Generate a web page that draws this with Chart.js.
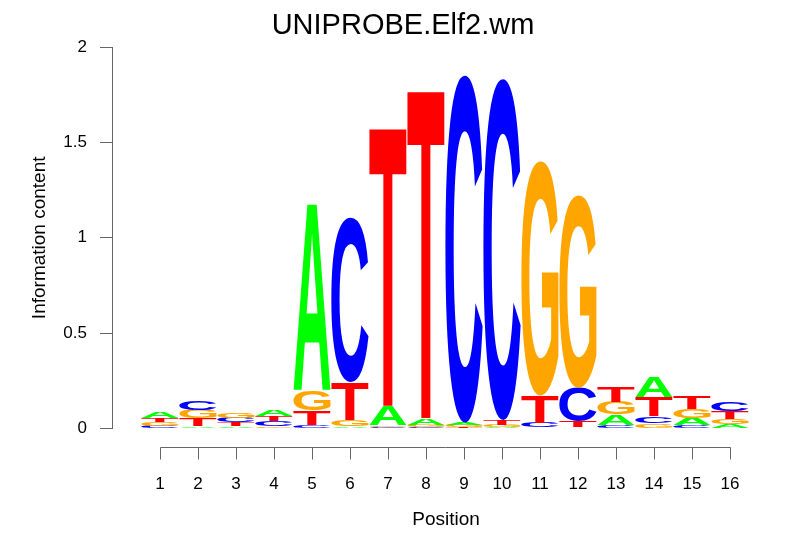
<!DOCTYPE html>
<html>
<head>
<meta charset="utf-8">
<title>UNIPROBE.Elf2.wm</title>
<script src="https://cdn.jsdelivr.net/npm/chart.js@4/dist/chart.umd.min.js"></script>
<style>
  html, body { margin: 0; padding: 0; background: #fff; }
  canvas { display: block; }
</style>
</head>
<body>
<canvas id="logo" width="806" height="559"></canvas>
<script>
// positions along the motif
const positions = [1, 2, 3, 4, 5, 6, 7, 8, 9, 10, 11, 12, 13, 14, 15, 16];
const letters = ['A', 'C', 'G', 'T'];
const letterColors = ['#00FF00', '#0000FF', '#FFA500', '#FF0000'];

// information content (bits) of each letter, per position
const bitsA = [0.031, 0.012, 0.010, 0.031, 0.981, 0.009, 0.102, 0.035, 0.013, 0.006, 0.004, 0.005, 0.054, 0.109, 0.037, 0.020];
const bitsC = [0.013, 0.047, 0.025, 0.025, 0.017, 0.867, 0.008, 0.006, 1.825, 1.794, 0.026, 0.176, 0.019, 0.037, 0.019, 0.048];
const bitsG = [0.020, 0.045, 0.026, 0.011, 0.102, 0.034, 0.009, 0.013, 0.011, 0.011, 1.231, 1.012, 0.067, 0.026, 0.045, 0.029];
const bitsT = [0.023, 0.040, 0.021, 0.029, 0.076, 0.197, 1.464, 1.727, 0.006, 0.026, 0.142, 0.031, 0.083, 0.098, 0.065, 0.043];

const yTicks = [0, 0.5, 1, 1.5, 2];

// stack order: smallest letter at the bottom, so build one dataset per rank
const allBits = [bitsA, bitsC, bitsG, bitsT];
const rankLetters = [[], [], [], []];
const rankData = [[], [], [], []];
positions.forEach(function (p, i) {
    const col = letters.map(function (l, k) { return { k: k, v: allBits[k][i] }; });
    col.sort(function (a, b) { return a.v - b.v; });
    col.forEach(function (c, r) {
        rankLetters[r].push(c.k);
        rankData[r].push({ x: p, y: c.v });
    });
});

const datasets = rankData.map(function (d, r) {
    return {
        label: 'rank' + r,
        data: d,
        backgroundColor: 'rgba(0,0,0,0)',
        borderWidth: 0,
        barPercentage: 0.98,
        categoryPercentage: 1
    };
});

// letter glyph stretched to fill a box
function drawLetter(ctx, ch, color, left, top, w, h) {
    if (h <= 0.05 || w <= 0) return;
    ctx.save();
    ctx.font = 'bold 200px "Liberation Sans", Arial, sans-serif';
    ctx.textAlign = 'left';
    ctx.textBaseline = 'alphabetic';
    const m = ctx.measureText(ch);
    const gw = m.actualBoundingBoxLeft + m.actualBoundingBoxRight;
    const gh = m.actualBoundingBoxAscent + m.actualBoundingBoxDescent;
    ctx.translate(left, top);
    ctx.scale(w / gw, h / gh);
    ctx.fillStyle = color;
    ctx.fillText(ch, m.actualBoundingBoxLeft, m.actualBoundingBoxAscent);
    ctx.restore();
}

const logoLetters = {
    id: 'logoLetters',
    afterDatasetsDraw(chart) {
        const ctx = chart.ctx;
        chart.data.datasets.forEach(function (ds, r) {
            const meta = chart.getDatasetMeta(r);
            meta.data.forEach(function (bar, i) {
                const p = bar.getProps(['x', 'y', 'base', 'width'], true);
                const k = rankLetters[r][i];
                drawLetter(ctx, letters[k], letterColors[k], p.x - p.width / 2, Math.min(p.y, p.base), p.width, Math.abs(p.base - p.y));
            });
        });
    }
};

// R style x axis: line only between first and last tick, set below the plot
const rAxis = {
    id: 'rAxis',
    afterDraw(chart) {
        const ctx = chart.ctx;
        const xs = chart.scales.x;
        const y0 = Math.round(chart.chartArea.bottom + 19) + 0.5;
        ctx.save();
        ctx.strokeStyle = '#666';
        ctx.lineWidth = 1;
        ctx.beginPath();
        ctx.moveTo(Math.round(xs.getPixelForValue(positions[0])) + 0.5, y0);
        ctx.lineTo(Math.round(xs.getPixelForValue(positions[positions.length - 1])) + 0.5, y0);
        positions.forEach(function (p) {
            const px = Math.round(xs.getPixelForValue(p)) + 0.5;
            ctx.moveTo(px, y0);
            ctx.lineTo(px, y0 + 12);
        });
        ctx.stroke();
        ctx.restore();
    }
};

new Chart(document.getElementById('logo').getContext('2d'), {
    type: 'bar',
    data: { datasets: datasets },
    options: {
        responsive: false,
        animation: false,
        devicePixelRatio: 1,
        layout: { padding: { left: 26, right: 26, top: 0, bottom: 0 } },
        plugins: {
            legend: { display: false },
            tooltip: { enabled: false },
            title: {
                display: true,
                text: 'UNIPROBE.Elf2.wm',
                color: '#000',
                font: { family: '"Liberation Sans", Arial, sans-serif', size: 29, weight: 'normal' },
                padding: { top: 9, bottom: 3.5 }
            }
        },
        scales: {
            x: {
                type: 'linear',
                stacked: true,
                offset: false,
                min: -0.263,
                max: 17.316,
                grid: { display: false, drawTicks: false },
                border: { display: false },
                afterBuildTicks: function (s) {
                    s.ticks = positions.map(function (v) { return { value: v }; });
                },
                afterFit: function (s) { s.height = 130.7; },
                ticks: {
                    color: '#000',
                    padding: 45.5,
                    maxRotation: 0,
                    autoSkip: false,
                    font: { family: '"Liberation Sans", Arial, sans-serif', size: 17 },
                    callback: function (v) { return String(v); }
                },
                title: {
                    display: true,
                    text: 'Position',
                    color: '#000',
                    font: { family: '"Liberation Sans", Arial, sans-serif', size: 19 },
                    padding: { top: 0, bottom: 27.6 }
                }
            },
            y: {
                stacked: true,
                min: 0,
                max: 2,
                afterBuildTicks: function (s) {
                    s.ticks = yTicks.map(function (v) { return { value: v }; });
                },
                afterFit: function (s) { s.width = 86; },
                grid: { display: true, drawOnChartArea: false, drawTicks: true, tickLength: 12, color: '#666' },
                border: { display: true, color: '#666', width: 1 },
                ticks: {
                    color: '#000',
                    padding: 13,
                    font: { family: '"Liberation Sans", Arial, sans-serif', size: 17 },
                    callback: function (v) { return String(v); }
                },
                title: {
                    display: true,
                    text: 'Information content',
                    color: '#000',
                    font: { family: '"Liberation Sans", Arial, sans-serif', size: 19 },
                    padding: { top: 2.6, bottom: 0 }
                }
            }
        }
    },
    plugins: [logoLetters, rAxis]
});
</script>
</body>
</html>
